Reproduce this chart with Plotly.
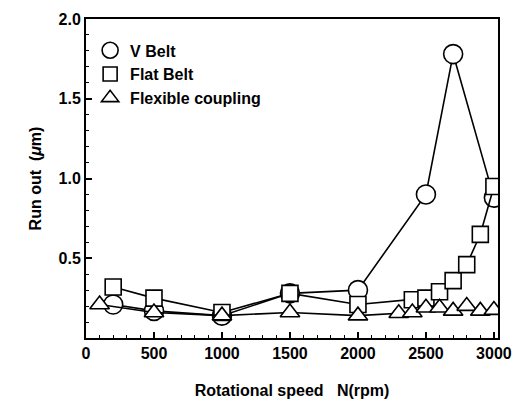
import plotly.graph_objects as go

# V Belt (circles)
v_x = [200, 500, 1000, 1500, 2000, 2500, 2700, 3000]
v_y = [0.21, 0.17, 0.14, 0.28, 0.30, 0.90, 1.78, 0.88]

# Flat Belt (squares)
f_x = [200, 500, 1000, 1500, 2000, 2400, 2500, 2600, 2700, 2800, 2900, 3000]
f_y = [0.32, 0.25, 0.16, 0.28, 0.21, 0.24, 0.25, 0.29, 0.36, 0.46, 0.65, 0.95]

# Flexible coupling (triangles)
c_x = [100, 500, 1000, 1500, 2000, 2300, 2400, 2500, 2600, 2700, 2800, 2900, 3000]
c_y = [0.21, 0.16, 0.14, 0.16, 0.14, 0.155, 0.16, 0.19, 0.19, 0.17, 0.20, 0.17, 0.175]

names = ["V Belt", "Flat Belt", "Flexible coupling"]

FONT = "Liberation Sans, Arial, sans-serif"

fig = go.Figure()

series = [(v_x, v_y, 19), (f_x, f_y, 16), (c_x, c_y, 17)]
sym_fill = ["circle", "square", "triangle-up"]
for (xs, ys, sz), sym in zip(series, sym_fill):
    fig.add_trace(go.Scatter(
        x=xs, y=ys, mode="lines+markers", showlegend=False,
        line=dict(color="black", width=1.6),
        marker=dict(symbol=sym, size=sz, color="white",
                    line=dict(color="black", width=1.6)),
    ))

# legend-only entries (markers without line)
for name, sym, (xs, ys, sz) in zip(names, sym_fill, series):
    fig.add_trace(go.Scatter(
        x=[None], y=[None], mode="markers", name=name,
        marker=dict(symbol=sym, size=sz - 2, color="white",
                    line=dict(color="black", width=1.6)),
    ))

fig.update_layout(
    width=521, height=399,
    margin=dict(l=86, r=23, t=19, b=61),
    paper_bgcolor="white", plot_bgcolor="white",
    font=dict(family=FONT, size=16, color="black", weight="bold"),
    legend=dict(x=0.01, y=0.955, xanchor="left", yanchor="top",
                bgcolor="rgba(0,0,0,0)", borderwidth=0,
                font=dict(family=FONT, size=16, color="black", weight="bold"),
                itemsizing="trace", tracegroupgap=0),
    xaxis=dict(
        range=[0, 3030], tickvals=[0, 500, 1000, 1500, 2000, 2500, 3000],
        ticks="inside", ticklen=6, tickwidth=1.5, tickcolor="black",
        minor=dict(dtick=100, ticks="inside", ticklen=3, tickcolor="black", tickwidth=1),
        showline=True, linecolor="black", linewidth=2, mirror=True,
        showgrid=False, zeroline=False, automargin=False,
        title=dict(text="Rotational speed   N(rpm)", standoff=27,
                   font=dict(family=FONT, size=16, weight="bold")),
        tickfont=dict(family=FONT, size=16, weight="bold"),
    ),
    yaxis=dict(
        range=[0, 2.0], tickvals=[0.5, 1.0, 1.5, 2.0], ticktext=["0.5", "1.0", "1.5", "2.0"],
        ticks="inside", ticklen=6, tickwidth=1.5, tickcolor="black",
        minor=dict(dtick=0.1, ticks="inside", ticklen=3, tickcolor="black", tickwidth=1),
        showline=True, linecolor="black", linewidth=2, mirror=True,
        showgrid=False, zeroline=False, automargin=False,
        title=dict(text="Run out  (<i>μ</i>m)", standoff=13,
                   font=dict(family=FONT, size=16, weight="bold")),
        tickfont=dict(family=FONT, size=16, weight="bold"),
    ),
)

fig.write_html("out.html")
